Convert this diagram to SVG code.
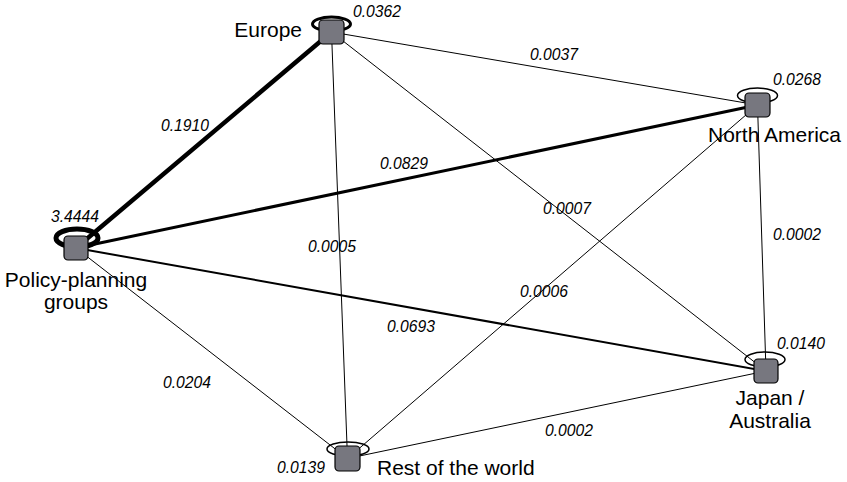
<svg xmlns="http://www.w3.org/2000/svg" width="847" height="482" viewBox="0 0 847 482">
<style>
.e{stroke:#000;fill:none;stroke-linecap:round}
.ring{fill:none;stroke:#000}
.sq{fill:#77777f;stroke:#000;stroke-width:1.2}
.lbl{font-family:"Liberation Sans",Arial,sans-serif;font-size:21px;fill:#000}
.val{font-family:"Liberation Sans",Arial,sans-serif;font-size:15.7px;font-style:italic;fill:#000}
</style>
<rect width="847" height="482" fill="#fff"/>
<g id="connectors">
<line class="e" x1="331.5" y1="32" x2="76" y2="248" stroke-width="4.5"/>
<line class="e" x1="331.5" y1="32" x2="757.5" y2="105" stroke-width="1"/>
<line class="e" x1="331.5" y1="32" x2="347.5" y2="458.5" stroke-width="1"/>
<line class="e" x1="331.5" y1="32" x2="766" y2="371" stroke-width="1"/>
<line class="e" x1="76" y1="248" x2="757.5" y2="105" stroke-width="3"/>
<line class="e" x1="76" y1="248" x2="766" y2="371" stroke-width="2"/>
<line class="e" x1="76" y1="248" x2="347.5" y2="458.5" stroke-width="1"/>
<line class="e" x1="757.5" y1="105" x2="766" y2="371" stroke-width="1"/>
<line class="e" x1="757.5" y1="105" x2="347.5" y2="458.5" stroke-width="1"/>
<line class="e" x1="347.5" y1="458.5" x2="766" y2="371" stroke-width="1"/>
<text class="val" x="161" y="131">0.1910</text>
<text class="val" x="530" y="60">0.0037</text>
<text class="val" x="380" y="169">0.0829</text>
<text class="val" x="308" y="252">0.0005</text>
<text class="val" x="543" y="214">0.0007</text>
<text class="val" x="520" y="297">0.0006</text>
<text class="val" x="773" y="240">0.0002</text>
<text class="val" x="387" y="332">0.0693</text>
<text class="val" x="163" y="388">0.0204</text>
<text class="val" x="545" y="436">0.0002</text>
</g>
<g id="europe">
<ellipse class="ring" cx="331.5" cy="24" rx="19" ry="7" stroke-width="3"/>
<rect class="sq" x="319" y="20" width="25" height="24" rx="4"/>
<text class="lbl" x="302" y="37" text-anchor="end">Europe</text>
<text class="val" x="353" y="17">0.0362</text>
</g>
<g id="north-america">
<ellipse class="ring" cx="757.5" cy="95.5" rx="20" ry="7.5" stroke-width="1.5"/>
<rect class="sq" x="745" y="93" width="25" height="24" rx="4"/>
<text class="lbl" x="708" y="142">North America</text>
<text class="val" x="773" y="85">0.0268</text>
</g>
<g id="policy-planning">
<ellipse class="ring" cx="77" cy="238" rx="21" ry="9" stroke-width="5"/>
<rect class="sq" x="64" y="236" width="24" height="24" rx="4"/>
<text class="lbl" x="76" y="287" text-anchor="middle">Policy-planning</text>
<text class="lbl" x="76" y="309" text-anchor="middle">groups</text>
<text class="val" x="51" y="222">3.4444</text>
</g>
<g id="japan-australia">
<ellipse class="ring" cx="765" cy="359.5" rx="20" ry="7.5" stroke-width="1.5"/>
<rect class="sq" x="754" y="359" width="24" height="24" rx="4"/>
<text class="lbl" x="770" y="405" text-anchor="middle">Japan /</text>
<text class="lbl" x="770" y="428" text-anchor="middle">Australia</text>
<text class="val" x="777" y="349">0.0140</text>
</g>
<g id="rest-of-world">
<ellipse class="ring" cx="348" cy="449" rx="21" ry="7" stroke-width="1.5"/>
<rect class="sq" x="335" y="446" width="25" height="25" rx="4"/>
<text class="lbl" x="377" y="475">Rest of the world</text>
<text class="val" x="277" y="473">0.0139</text>
</g>
</svg>
